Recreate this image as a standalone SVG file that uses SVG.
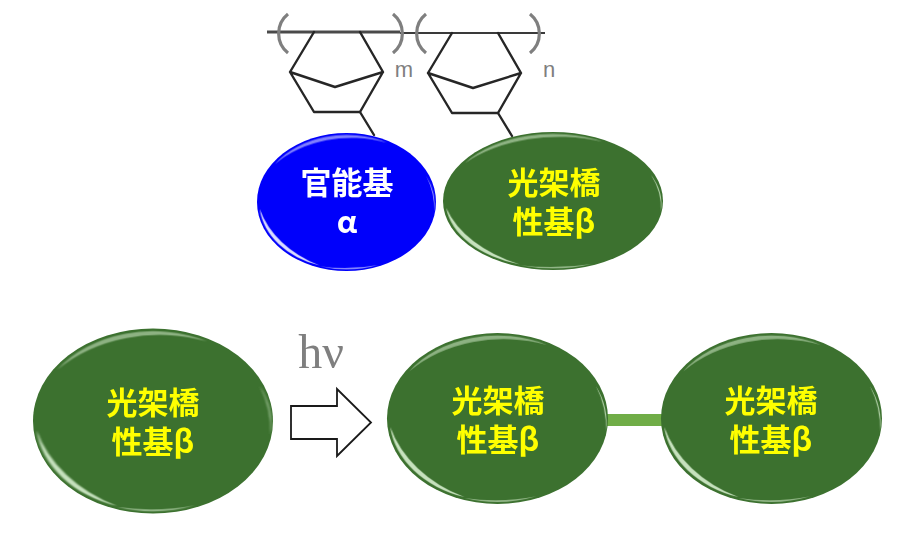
<svg xmlns="http://www.w3.org/2000/svg" width="910" height="533" viewBox="0 0 910 533">
<defs>
<filter id="soft" x="-10%" y="-10%" width="120%" height="120%"><feGaussianBlur stdDeviation="0.7"/></filter>
<g id="shine" filter="url(#soft)">
<path opacity=".55" d="M-80-55A97 97 0 0 1 45-86A115 115 0 0 0-80-55Z"/>
<path opacity=".95" d="M-97 10A97 97 0 0 0-30 92A130 130 0 0 1-97 10Z"/>
<path opacity=".6" d="M-30 93A98 98 0 0 0 35 91A150 150 0 0 1-30 93Z"/>
<path opacity=".8" d="M89-38A98 98 0 0 1 98 15A130 130 0 0 0 89-38Z"/>
</g>
</defs>
<style>
text{font-family:"Noto Sans CJK JP","Noto Sans CJK SC",sans-serif;font-weight:700;text-anchor:middle}
.g{fill:#3c712f}
.b{fill:#0000fb}
.yl{fill:#ffff00;font-size:31px}
.wh{fill:#fff;font-size:31px}
.lg{fill:#cfe8c6}
.lb{fill:#e6e8ff}
.bond{fill:none;stroke:#262626;stroke-width:2.4;stroke-linejoin:round;stroke-linecap:round}
.paren{fill:none;stroke:#7f7f7f;stroke-width:3.2}
.lab{fill:#7f7f7f;font-family:"Liberation Sans",sans-serif;font-weight:400;font-size:22px}
.hv{fill:#7f7f7f;font-family:"Liberation Serif",serif;font-weight:400;font-size:48px}
</style>
<g id="polymer">
<path d="M267 32H400" fill="none" stroke="#4a4a4a" stroke-width="2.800"/>
<path d="M400 33H545" fill="none" stroke="#3a3a3a" stroke-width="2.200"/>
<path class="bond" d="M314 32L290 72L314 112H360L383 72L360 32M290 72L335 87L383 72"/>
<path class="bond" d="M452 33L428 73L452 113H498L521 73L498 33M428 73L473 88L521 73"/>
<path class="paren" d="M288 14A25 25 0 0 0 288 53M393 14A25 25 0 0 1 393 53M426 14A25 25 0 0 0 426 53M530 14A25 25 0 0 1 530 53"/>
<text class="lab" x="404" y="77">m</text>
<text class="lab" x="549" y="77">n</text>
</g>
<g id="connectors">
<path class="bond" d="M360 112L374 135M498 113L512 136"/>
<rect x="606" y="414" width="57" height="12" fill="#70ad47"/>
</g>
<g id="node-functional-alpha">
<ellipse class="b" cx="346.500" cy="202" rx="89.500" ry="69"/>
<use href="#shine" class="lb" transform="translate(346.500 202) scale(.895 .69)"/>
<text class="wh" x="347" y="194">官能基</text>
<text class="wh" x="347" y="233">α</text>
</g>
<g id="node-crosslink-top">
<ellipse class="g" cx="553" cy="201" rx="110" ry="69"/>
<use href="#shine" class="lg" transform="translate(553 201) scale(1.100 .69)"/>
<text class="yl" x="554" y="194">光架橋</text>
<text class="yl" x="554" y="233">性基β</text>
</g>
<g id="node-crosslink-left">
<ellipse class="g" cx="153" cy="421" rx="120" ry="92.500"/>
<use href="#shine" class="lg" transform="translate(153 421) scale(1.200 .925)"/>
<text class="yl" x="153" y="414">光架橋</text>
<text class="yl" x="153" y="453">性基β</text>
</g>
<g id="arrow">
<path d="M291 406H337V389L371 422.500L337 456V439H291Z" fill="#fff" stroke="#1a1a1a" stroke-width="1.800"/>
<text class="hv" x="321" y="368">hν</text>
</g>
<g id="node-crosslink-middle">
<ellipse class="g" cx="497.500" cy="418.500" rx="110.500" ry="85.500"/>
<use href="#shine" class="lg" transform="translate(497.500 418.500) scale(1.105 .855)"/>
<text class="yl" x="498" y="412">光架橋</text>
<text class="yl" x="498" y="451">性基β</text>
</g>
<g id="node-crosslink-right">
<ellipse class="g" cx="771.500" cy="418.500" rx="110.500" ry="85.500"/>
<use href="#shine" class="lg" transform="translate(771.500 418.500) scale(1.105 .855)"/>
<text class="yl" x="771" y="412">光架橋</text>
<text class="yl" x="771" y="451">性基β</text>
</g>
</svg>
